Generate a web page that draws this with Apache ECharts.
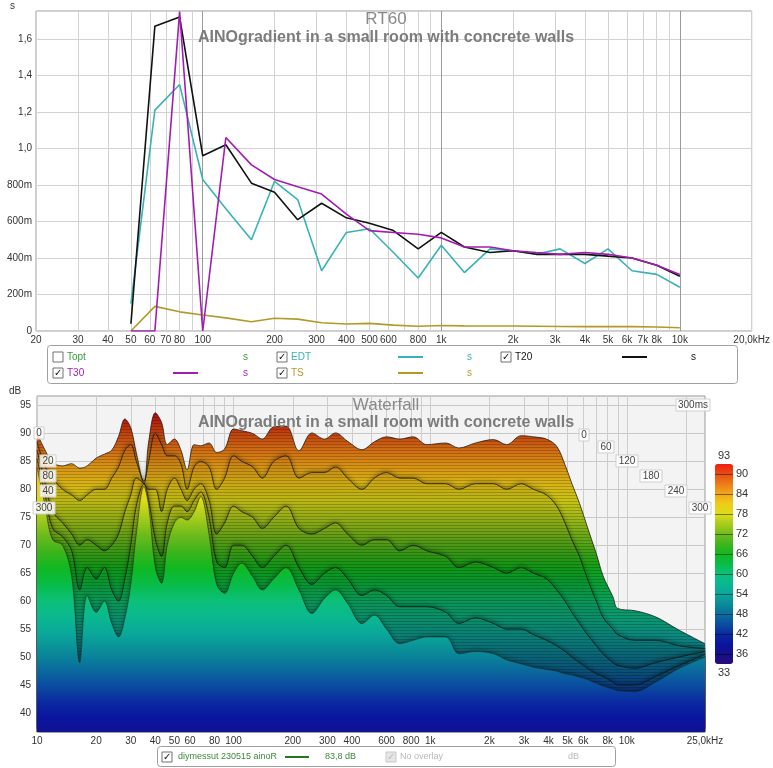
<!DOCTYPE html>
<html>
<head>
<meta charset="utf-8">
<title>RT60 / Waterfall</title>
<script src="https://cdn.jsdelivr.net/npm/echarts@6/dist/echarts.min.js"></script>
<style>
  html, body { margin: 0; padding: 0; background: #fff; }
  #chart { width: 773px; height: 768px; }
</style>
</head>
<body>
<div id="chart"></div>
<script>
// --- RT60 (1/3 octave bands) ---
var rtBands = [50, 63, 80, 100, 125, 160, 200, 250, 315, 400, 500, 630, 800, 1000, 1250, 1600, 2000, 2500, 3150, 4000, 5000, 6300, 8000, 10000];
var edt = [0.15, 1.21, 1.35, 0.83, 0.67, 0.50, 0.82, 0.72, 0.33, 0.54, 0.56, 0.43, 0.29, 0.47, 0.32, 0.45, 0.44, 0.42, 0.45, 0.37, 0.45, 0.33, 0.31, 0.24];
var t20 = [0.04, 1.67, 1.72, 0.96, 1.02, 0.81, 0.76, 0.61, 0.70, 0.62, 0.59, 0.55, 0.45, 0.54, 0.46, 0.43, 0.44, 0.42, 0.42, 0.42, 0.41, 0.40, 0.36, 0.30];
var t30 = [0.0, 0.0, 1.75, 0.0, 1.06, 0.91, 0.83, 0.79, 0.75, 0.64, 0.55, 0.54, 0.53, 0.51, 0.46, 0.46, 0.44, 0.43, 0.42, 0.43, 0.42, 0.40, 0.36, 0.31];
var ts = [0.0, 0.135, 0.105, 0.088, 0.072, 0.051, 0.07, 0.065, 0.045, 0.038, 0.042, 0.032, 0.026, 0.03, 0.028, 0.027, 0.027, 0.026, 0.025, 0.024, 0.025, 0.024, 0.022, 0.018];

// --- waterfall slices, back (0 ms) to front (300 ms), dB ---
var wfFreq = [10, 11, 12, 13.5, 15, 16.5, 18, 20, 22, 24, 26, 28, 30, 32, 35, 37, 40, 43, 46, 50, 54, 58, 63, 68, 75, 82, 90, 100, 110, 125, 140, 160, 185, 215, 250, 290, 330, 380, 450, 520, 600, 700, 820, 960, 1200, 1400, 1700, 2100, 2450, 2900, 3350, 3900, 4400, 4850, 5250, 5750, 6300, 7000, 7600, 8500, 9000, 11000, 14000, 18500, 25000];
var wf0 = [90, 87, 84.8, 84.2, 84.6, 83.8, 84.2, 85.6, 86.3, 87, 89.5, 92.6, 91, 86.5, 81, 88.5, 93.7, 92, 88, 89, 87, 83.5, 88, 87.8, 88.3, 86.6, 87.2, 90.8, 90.5, 90, 89, 91.2, 91.3, 86.9, 90.1, 89, 90.1, 88.6, 87.1, 88.5, 89.4, 89, 89.4, 88, 88.3, 87.4, 88.3, 88.9, 88, 89.6, 89.4, 89, 87.7, 84.4, 81.1, 77.5, 73.3, 68.5, 64.4, 60.8, 58.7, 58.3, 57.2, 54.8, 52.4];
var wf1 = [88.5, 84, 82, 80, 79, 78, 79, 80, 80, 82, 84, 87, 88, 85, 81.5, 85, 90, 88, 86, 86, 84.5, 80, 84, 85, 84, 80, 82, 86, 85, 84, 82, 85, 86, 82, 83, 83, 84, 82, 80, 82, 83, 82, 82, 81, 81, 80, 81, 81, 80, 81, 80, 79, 77, 74, 71, 68, 64, 60, 57, 55, 54, 53, 53, 52, 51.5];
var wf2 = [87, 81, 76, 74, 72, 70, 71, 70, 69, 70, 72, 76, 79, 82, 81, 80, 80, 76, 80, 82, 80, 78, 80, 81, 78, 72, 74, 77, 76, 75, 73, 75, 77, 73, 72, 73, 74, 72, 70, 71, 71, 69, 70, 69, 68, 66, 67, 66, 65, 66, 65, 64, 62, 60, 58, 56, 54, 52, 50.5, 49, 48.5, 48, 49, 50, 51];
var wf3 = [85.5, 79, 73, 71.5, 69, 62, 66, 64, 66, 62, 60, 64, 70, 77, 81, 78, 71, 68, 74, 77, 77, 76, 78, 79.5, 75, 67, 66, 70, 70, 68, 66, 68, 70, 66, 63, 65, 66, 64, 61, 62, 61, 59, 59, 59, 58, 56, 57, 56, 55, 55, 54, 53, 52, 51, 50, 49, 48, 47, 46.5, 45.5, 45, 45, 46.5, 48.5, 50.5];
var wfFront = [84, 77, 71, 70, 64.5, 49, 61, 58, 60, 56, 53.6, 57, 63, 72, 80.5, 77, 66, 63.2, 70, 74, 75, 74.5, 76, 78.7, 72, 63, 61.4, 65, 66.8, 64.4, 62, 64, 66, 62, 57.8, 60.5, 62, 59.6, 56, 57.5, 55, 52.4, 53, 53.6, 53.6, 50.6, 51, 50.6, 49.5, 48.8, 48.2, 47.8, 47.5, 47, 46.8, 46.4, 46, 45.3, 44.8, 44.3, 44, 43.8, 45.5, 48, 50];

// --- tick values ---
var rtLabelVals = [20, 30, 40, 50, 60, 70, 80, 100, 200, 300, 400, 500, 600, 800, 1000, 2000, 3000, 4000, 5000, 6000, 7000, 8000, 10000, 20000];
var wfLabelVals = [10, 20, 30, 40, 50, 60, 80, 100, 200, 300, 400, 600, 800, 1000, 2000, 3000, 4000, 5000, 6000, 8000, 10000, 25000];
var logGrid = [10, 20, 30, 40, 50, 60, 70, 80, 90, 100, 200, 300, 400, 500, 600, 700, 800, 900, 1000, 2000, 3000, 4000, 5000, 6000, 7000, 8000, 9000, 10000, 20000];
var dbTicks = [40, 45, 50, 55, 60, 65, 70, 75, 80, 85, 90, 95];
var barTicks = [36, 42, 48, 54, 60, 66, 72, 78, 84, 90];

var colorsBright = ['#2a0a78', '#14108c', '#0a14a0', '#0a2aa0', '#0a4ea0', '#0a6e9c', '#0a8c98', '#0aa69a', '#0ab890', '#0cc07a', '#08bc48', '#10b820', '#40b41c', '#70bc1c', '#a8cc1c', '#dcdc18', '#f0cc18', '#f0a81c', '#ec7c18', '#e85010', '#f01c10'];
var colorsSurface = ['#200a60', '#100e70', '#0a1280', '#0a2484', '#0a4084', '#0a5a80', '#0a727e', '#0a8a7e', '#0a9870', '#0aa05c', '#08a036', '#10a018', '#40a016', '#70aa16', '#a0b818', '#c8c414', '#d8b414', '#d89414', '#d06c12', '#c0420e', '#b0140c'];

var FONT = '"Liberation Sans", Arial, sans-serif';

function zip(xs, ys) {
  return xs.map(function (x, i) { return [x, ys[i]]; });
}

function freqLabel(v) {
  if (v === 20000) return '20,0kHz';
  if (v === 25000) return '25,0kHz';
  if (v >= 1000) return (v / 1000) + 'k';
  return String(v);
}

function secLabel(v) {
  if (Math.abs(v * 5 - Math.round(v * 5)) > 1e-6) return '';
  if (v === 0) return '0';
  if (v < 0.999) return Math.round(v * 1000) + 'm';
  return v.toFixed(1).replace('.', ',');
}

// graphic helpers
function txt(x, y, s, color, size, extra) {
  var st = {
    text: s, fill: color, font: (size || 10) + 'px ' + FONT,
    textAlign: 'left', textVerticalAlign: 'middle', align: 'left', verticalAlign: 'middle'
  };
  if (extra) for (var k in extra) st[k] = extra[k];
  return { type: 'text', x: x, y: y, z: 100, style: st };
}
function box(x, y, w, h, stroke, fill) {
  return { type: 'rect', z: 99, shape: { x: x, y: y, width: w, height: h, r: 3 },
    style: { fill: fill || '#fff', stroke: stroke || '#a0a0a0', lineWidth: 1 } };
}
function checkbox(x, y, checked, disabled) {
  var els = [{ type: 'rect', z: 100, shape: { x: x, y: y - 5, width: 10, height: 10 },
    style: { fill: disabled ? '#e6e6e6' : '#fff', stroke: disabled ? '#c8c8c8' : '#707070', lineWidth: 1 } }];
  if (checked) {
    els.push(txt(x + 1, y, '✓', disabled ? '#bbb' : '#111', 10, { font: 'bold 10px "DejaVu Sans"' }));
  }
  return els;
}
function swatch(x1, x2, y, color) {
  return { type: 'line', z: 100, shape: { x1: x1, y1: y, x2: x2, y2: y }, style: { stroke: color, lineWidth: 2 } };
}
function tag(x, y, s) {
  var w = s.length * 6 + 4;
  return [
    { type: 'rect', z: 1, shape: { x: x - w / 2, y: y - 6, width: w, height: 12 }, style: { fill: 'rgba(255,255,255,0.85)', stroke: '#cfcfcf', lineWidth: 1 } },
    txt(x, y, s, '#444', 10, { textAlign: 'center', align: 'center' })
  ];
}

var C_EDT = '#38b2b4', C_T20 = '#111111', C_T30 = '#a21cb2', C_TS = '#b39a28', C_TOPT = '#3c9a3c';

var graphics = [];
// titles
graphics.push(txt(386, 19, 'RT60', '#8a8a8a', 17, { textAlign: 'center', align: 'center' }));
graphics.push(txt(386, 38, 'AINOgradient in a small room with concrete walls', '#7c7c7c', 16, { textAlign: 'center', align: 'center', font: 'bold 16px ' + FONT }));
graphics.push(txt(386, 405, 'Waterfall', '#8a8a8a', 17, { textAlign: 'center', align: 'center' }));
graphics.push(txt(386, 423, 'AINOgradient in a small room with concrete walls', '#7c7c7c', 16, { textAlign: 'center', align: 'center', font: 'bold 16px ' + FONT }));
// unit labels
graphics.push(txt(10, 6, 's', '#333', 10));
graphics.push(txt(9, 391, 'dB', '#333', 10));

// RT60 legend
graphics.push(box(47.5, 345.5, 690, 38));
graphics = graphics.concat(checkbox(53, 357, false));
graphics.push(txt(67, 357, 'Topt', C_TOPT, 10));
graphics.push(txt(243, 357, 's', C_TOPT, 10));
graphics = graphics.concat(checkbox(277, 357, true));
graphics.push(txt(291, 357, 'EDT', C_EDT, 10));
graphics.push(swatch(398, 423, 357, C_EDT));
graphics.push(txt(467, 357, 's', C_EDT, 10));
graphics = graphics.concat(checkbox(501, 357, true));
graphics.push(txt(515, 357, 'T20', C_T20, 10));
graphics.push(swatch(622, 647, 357, C_T20));
graphics.push(txt(691, 357, 's', C_T20, 10));
graphics = graphics.concat(checkbox(53, 373, true));
graphics.push(txt(67, 373, 'T30', C_T30, 10));
graphics.push(swatch(173, 198, 373, C_T30));
graphics.push(txt(243, 373, 's', C_T30, 10));
graphics = graphics.concat(checkbox(277, 373, true));
graphics.push(txt(291, 373, 'TS', C_TS, 10));
graphics.push(swatch(398, 423, 373, C_TS));
graphics.push(txt(467, 373, 's', C_TS, 10));

// waterfall legend
graphics.push(box(157.5, 746.5, 458, 20));
graphics = graphics.concat(checkbox(162, 757, true));
graphics.push(txt(178, 757, 'diymessut 230515 ainoR', '#3a8a3a', 9));
graphics.push(swatch(285, 309, 757, '#1f7a1f'));
graphics.push(txt(325, 757, '83,8 dB', '#3a8a3a', 9));
graphics = graphics.concat(checkbox(386, 757, true, true));
graphics.push(txt(400, 757, 'No overlay', '#b8b8b8', 9));
graphics.push(txt(568, 757, 'dB', '#b8b8b8', 9));

// time labels on the waterfall walls
graphics = graphics.concat(tag(693, 405, '300ms'));
[[584, 435, '0'], [606, 447, '60'], [627, 461, '120'], [651, 476, '180'], [676, 491, '240'], [700, 508, '300']].forEach(function (t) {
  graphics = graphics.concat(tag(t[0], t[1], t[2]));
});
[[39, 433, '0'], [48, 461, '20'], [48, 476, '80'], [48, 491, '40'], [44, 508, '300']].forEach(function (t) {
  var g = tag(t[0], t[1], t[2]);
  g[0].z = 50; g[1].z = 51;
  graphics = graphics.concat(g);
});

var gridLine = { lineStyle: { color: '#d2d2d2', width: 1 } };

var sliceDecal = {
  symbol: 'rect', symbolSize: 1, dashArrayX: [1, 0], dashArrayY: [1, 1.6],
  rotation: 0, color: 'rgba(0,0,0,0.2)'
};

function slice(name, vals, kind) {
  var s = {
    name: name, type: 'line', xAxisIndex: 2, yAxisIndex: 1,
    data: zip(wfFreq, vals), symbol: 'none', smooth: 0.35, silent: true,
    lineStyle: { color: '#111', width: 0.9, opacity: 0.8, decal: sliceDecal },
    itemStyle: { decal: sliceDecal },
    areaStyle: { opacity: 1, shadowColor: 'rgba(0,0,0,0.4)', shadowBlur: 5, shadowOffsetY: -1 }
  };
  if (kind === 'back') {
    s.areaStyle = { opacity: 1 };
  }
  if (kind === 'front') {
    s.lineStyle = { color: '#1b2a1b', width: 0.8, opacity: 0.7 };
    s.itemStyle = {};
  }
  return s;
}

var chart = echarts.init(document.getElementById('chart'), null, { renderer: 'canvas' });
chart.setOption({
  animation: false,
  backgroundColor: '#ffffff',
  textStyle: { fontFamily: FONT },
  grid: [
    { left: 36, top: 11, width: 717, height: 320, show: true, borderColor: '#9a9a9a', borderWidth: 1, backgroundColor: '#fff' },
    { left: 37, top: 396, width: 668, height: 336, show: true, borderColor: '#9a9a9a', borderWidth: 1, backgroundColor: '#f3f3f3' },
    { left: 715, top: 464, width: 18, height: 200 }
  ],
  xAxis: [
    { gridIndex: 0, type: 'log', logBase: 10, min: 20, max: 20000,
      axisLine: { show: false }, axisTick: { show: false, customValues: logGrid.filter(function (v) { return v >= 20; }) },
      axisLabel: { customValues: rtLabelVals, formatter: freqLabel, margin: 4, hideOverlap: false, showMinLabel: true, showMaxLabel: true, color: '#333', fontSize: 10, fontFamily: FONT },
      splitLine: { show: true, lineStyle: { color: '#d2d2d2' } } },
    { gridIndex: 0, type: 'log', logBase: 10, min: 20, max: 20000,
      axisLine: { show: false }, axisLabel: { show: false }, axisTick: { show: false, customValues: [100, 1000, 10000] },
      splitLine: { show: true, lineStyle: { color: '#9a9a9a' } } },
    { gridIndex: 1, type: 'log', logBase: 10, min: 10, max: 25000,
      axisLine: { show: false }, axisTick: { show: false, customValues: logGrid },
      axisLabel: { customValues: wfLabelVals, formatter: freqLabel, margin: 4, hideOverlap: false, showMinLabel: true, showMaxLabel: true, color: '#333', fontSize: 10, fontFamily: FONT },
      splitLine: { show: true, lineStyle: { color: '#cdcdcd' } } },
    { gridIndex: 2, type: 'value', show: false, min: 0, max: 1 }
  ],
  yAxis: [
    { gridIndex: 0, type: 'value', min: 0, max: 1.753, interval: 0.2,
      axisLine: { show: false }, axisTick: { show: false },
      axisLabel: { formatter: secLabel, margin: 4, color: '#333', fontSize: 10, fontFamily: FONT },
      splitLine: gridLine },
    { gridIndex: 1, type: 'value', min: 36.6, max: 96.7,
      axisLine: { show: false }, axisTick: { show: false, customValues: dbTicks },
      axisLabel: { customValues: dbTicks, margin: 6, color: '#333', fontSize: 10, fontFamily: FONT },
      splitLine: { show: true, lineStyle: { color: '#c8c8c8' } } },
    { gridIndex: 2, type: 'value', min: 33, max: 93, position: 'right', z: 10,
      axisLine: { show: false }, axisTick: { show: false, customValues: barTicks },
      axisLabel: { customValues: barTicks, margin: 3, color: '#333', fontSize: 11, fontFamily: FONT },
      splitLine: { show: true, lineStyle: { color: 'rgba(0,0,0,0.45)', width: 1 } } }
  ],
  visualMap: [
    { type: 'continuous', seriesIndex: 8, dimension: 1, min: 33, max: 93,
      inRange: { color: colorsBright }, calculable: false, hoverLink: false,
      left: 700, top: 435, itemWidth: 18, itemHeight: 200, text: ['93', '33'], textGap: 3,
      textStyle: { color: '#333', fontSize: 11, fontFamily: FONT } },
    { type: 'continuous', show: false, seriesIndex: [4, 5, 6, 7], dimension: 1, min: 33, max: 93,
      inRange: { color: colorsSurface } }
  ],
  series: [
    { name: 'TS', type: 'line', xAxisIndex: 0, yAxisIndex: 0, data: zip(rtBands, ts), symbol: 'none', lineStyle: { color: C_TS, width: 1.6 } },
    { name: 'EDT', type: 'line', xAxisIndex: 0, yAxisIndex: 0, data: zip(rtBands, edt), symbol: 'none', lineStyle: { color: C_EDT, width: 1.6 } },
    { name: 'T20', type: 'line', xAxisIndex: 0, yAxisIndex: 0, data: zip(rtBands, t20), symbol: 'none', lineStyle: { color: C_T20, width: 1.6 } },
    { name: 'T30', type: 'line', xAxisIndex: 0, yAxisIndex: 0, data: zip(rtBands, t30), symbol: 'none', lineStyle: { color: C_T30, width: 1.6 } },
    slice('0 ms', wf0, 'back'),
    slice('60 ms', wf1),
    slice('150 ms', wf2),
    slice('220 ms', wf3),
    slice('300 ms', wfFront, 'front')
  ],
  graphic: graphics
});
</script>
</body>
</html>
